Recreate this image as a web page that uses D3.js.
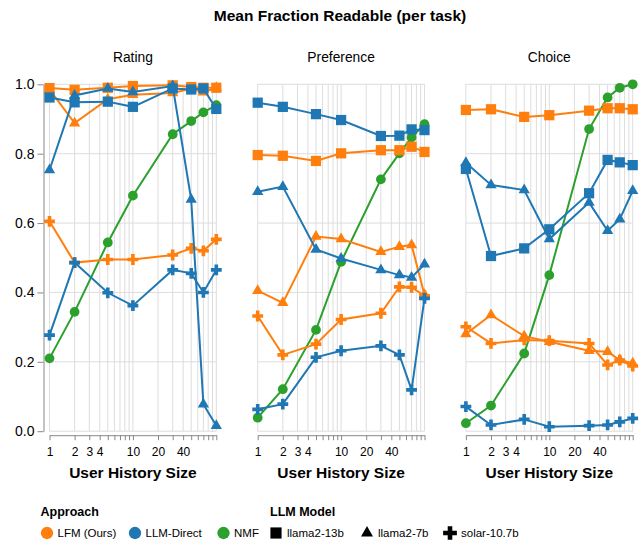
<!DOCTYPE html>
<html><head><meta charset="utf-8">
<script src="https://cdn.jsdelivr.net/npm/d3@7"></script>
<style>body{margin:0;background:#fff;} text{font-family:"Liberation Sans",Arial,sans-serif;}</style>
</head><body><svg id="c" width="640" height="546"></svg>
<script>
const tasks = ["Rating","Preference","Choice"];
const historySizes = [1,2,5,10,30,50,70,100];
const approaches = ["LFM (Ours)","LLM-Direct","NMF"];
const models = ["llama2-13b","llama2-7b","solar-10.7b"];
const yTicks = [0,0.2,0.4,0.6,0.8,1.0];
const xTickLabels = [1,2,3,4,10,20,40];
const xMinorTicks = [1,2,3,4,5,6,7,8,9,10,20,30,40,50,60,70,80,90,100];

// Rating
const ratingLFM13b   = [0.989,0.984,0.990,0.995,0.997,0.992,0.990,0.990];
const ratingLFM7b    = [0.985,0.888,0.957,0.970,0.975,0.988,0.977,0.990];
const ratingLFMsolar = [0.605,0.486,0.495,0.495,0.508,0.527,0.520,0.553];
const ratingDir13b   = [0.962,0.948,0.950,0.935,0.988,0.985,0.988,0.929];
const ratingDir7b    = [0.753,0.968,0.988,0.978,0.995,0.668,0.078,0.016];
const ratingDirSolar = [0.277,0.486,0.399,0.362,0.465,0.455,0.400,0.465];
const ratingNMF      = [0.210,0.344,0.544,0.679,0.856,0.894,0.919,0.940];
// Preference
const prefLFM13b   = [0.796,0.794,0.779,0.801,0.810,0.810,0.820,0.805];
const prefLFM7b    = [0.405,0.370,0.561,0.554,0.517,0.532,0.537,0.393];
const prefLFMsolar = [0.332,0.220,0.251,0.322,0.340,0.416,0.415,0.390];
const prefDir13b   = [0.947,0.935,0.914,0.897,0.851,0.852,0.870,0.868];
const prefDir7b    = [0.690,0.705,0.524,0.498,0.465,0.450,0.443,0.481];
const prefDirSolar = [0.063,0.078,0.213,0.232,0.246,0.220,0.119,0.383];
const prefNMF      = [0.039,0.121,0.292,0.488,0.726,0.801,0.847,0.885];
// Choice
const choiceLFM13b   = [0.926,0.928,0.906,0.911,0.924,0.931,0.931,0.928];
const choiceLFM7b    = [0.280,0.335,0.274,0.258,0.232,0.229,0.205,0.196];
const choiceLFMsolar = [0.301,0.253,0.263,0.261,0.253,0.191,0.205,0.188];
const choiceDir13b   = [0.756,0.505,0.527,0.582,0.686,0.782,0.775,0.767];
const choiceDir7b    = [0.774,0.710,0.695,0.554,0.659,0.578,0.611,0.693];
const choiceDirSolar = [0.071,0.018,0.034,0.013,0.016,0.018,0.027,0.037];
const choiceNMF      = [0.023,0.074,0.224,0.450,0.871,0.962,0.990,1.000];

const panelSeries = {
  "Rating": [
    ["NMF",null,ratingNMF],
    ["LFM (Ours)","llama2-13b",ratingLFM13b],["LFM (Ours)","llama2-7b",ratingLFM7b],["LFM (Ours)","solar-10.7b",ratingLFMsolar],
    ["LLM-Direct","llama2-13b",ratingDir13b],["LLM-Direct","llama2-7b",ratingDir7b],["LLM-Direct","solar-10.7b",ratingDirSolar]],
  "Preference": [
    ["NMF",null,prefNMF],
    ["LFM (Ours)","llama2-13b",prefLFM13b],["LFM (Ours)","llama2-7b",prefLFM7b],["LFM (Ours)","solar-10.7b",prefLFMsolar],
    ["LLM-Direct","llama2-13b",prefDir13b],["LLM-Direct","llama2-7b",prefDir7b],["LLM-Direct","solar-10.7b",prefDirSolar]],
  "Choice": [
    ["NMF",null,choiceNMF],
    ["LFM (Ours)","llama2-13b",choiceLFM13b],["LFM (Ours)","llama2-7b",choiceLFM7b],["LFM (Ours)","solar-10.7b",choiceLFMsolar],
    ["LLM-Direct","llama2-13b",choiceDir13b],["LLM-Direct","llama2-7b",choiceDir7b],["LLM-Direct","solar-10.7b",choiceDirSolar]]
};

const color = d3.scaleOrdinal().domain(approaches).range(["#ff7f0e","#1f77b4","#2ca02c"]);
const symType = m => m==="llama2-13b"?d3.symbolSquare:m==="llama2-7b"?d3.symbolTriangle:m==="solar-10.7b"?d3.symbolCross:d3.symbolCircle;
const symSize = m => m==="llama2-13b"?105:m==="llama2-7b"?55:m==="solar-10.7b"?65:75;

const svg = d3.select("#c");
const plotTop = 84.3, plotBottom = 431.2, pw = 166.8;
const lefts = [49.5, 257.7, 465.9];
const y = d3.scaleLinear().domain([0,1]).range([plotBottom, plotTop]);

svg.append("text").attr("x",340).attr("y",20.5).attr("text-anchor","middle")
  .attr("font-size",15.5).attr("font-weight","bold").attr("fill","#000").text("Mean Fraction Readable (per task)");

tasks.forEach((t,i)=>{
  const L = lefts[i];
  const x = d3.scaleLog().domain([1,100]).range([L, L+pw]);
  const g = svg.append("g");
  g.append("text").attr("x",L+pw/2).attr("y",62).attr("text-anchor","middle").attr("font-size",13.8).attr("fill","#000").text(t);
  g.append("g").selectAll("line").data(xMinorTicks).join("line")
    .attr("x1",d=>x(d)).attr("x2",d=>x(d)).attr("y1",plotTop).attr("y2",plotBottom)
    .attr("stroke","#ddd").attr("stroke-width",1);
  g.append("g").selectAll("line").data(yTicks).join("line")
    .attr("x1",L).attr("x2",L+pw).attr("y1",d=>y(d)).attr("y2",d=>y(d))
    .attr("stroke","#ddd").attr("stroke-width",1);
  const xa = g.append("g").attr("transform",`translate(0,${plotBottom+4})`)
    .call(d3.axisBottom(x).tickValues(xMinorTicks).tickSize(5).tickSizeOuter(0)
      .tickFormat(d=>xTickLabels.includes(d)?String(d):""));
  xa.select(".domain").attr("stroke","#888");
  xa.selectAll(".tick line").attr("stroke","#888");
  xa.selectAll(".tick text").attr("font-size",12).attr("fill","#000").attr("dy","1.1em")
    .attr("font-family","'Liberation Sans',Arial,sans-serif");
  g.append("text").attr("x",L+pw/2).attr("y",478.3).attr("text-anchor","middle")
    .attr("font-size",15.5).attr("font-weight","bold").attr("fill","#000").text("User History Size");
  if(i===0){
    const ya = g.append("g").attr("transform",`translate(${L-6},0)`)
      .call(d3.axisLeft(y).tickValues(yTicks).tickSize(6).tickSizeOuter(0).tickFormat(d3.format(".1f")));
    ya.select(".domain").attr("stroke","#888");
    ya.selectAll(".tick line").attr("stroke","#888");
    ya.selectAll(".tick text").attr("font-size",14).attr("fill","#000")
      .attr("font-family","'Liberation Sans',Arial,sans-serif");
  }
  const line = d3.line().x((d,k)=>x(historySizes[k])).y(d=>y(d));
  panelSeries[t].forEach(([a,m,vals])=>{
    g.append("path").datum(vals).attr("d",line).attr("fill","none")
      .attr("stroke",color(a)).attr("stroke-width",2);
    g.append("g").selectAll("path").data(vals).join("path")
      .attr("transform",(d,k)=>`translate(${x(historySizes[k])},${y(d)})`)
      .attr("d",d3.symbol().type(symType(m)).size(symSize(m)))
      .attr("fill",color(a));
  });
});

const lg = svg.append("g");
lg.append("text").attr("x",40.5).attr("y",516).attr("font-size",12.5).attr("font-weight","bold").attr("fill","#000").text("Approach");
const apX = [47,135,223.5];
approaches.forEach((a,k)=>{
  lg.append("path").attr("transform",`translate(${apX[k]},533)`).attr("d",d3.symbol().type(d3.symbolCircle).size(120)).attr("fill",color(a));
  lg.append("text").attr("x",apX[k]+10.5).attr("y",537).attr("font-size",11.5).attr("fill","#000").text(a);
});
lg.append("text").attr("x",270).attr("y",516).attr("font-size",12.5).attr("font-weight","bold").attr("fill","#000").text("LLM Model");
const mX = [276,367,450];
const legSize = {"llama2-13b":125,"llama2-7b":62,"solar-10.7b":105};
models.forEach((m,k)=>{
  lg.append("path").attr("transform",`translate(${mX[k]},533)`).attr("d",d3.symbol().type(symType(m)).size(legSize[m])).attr("fill","#000");
  lg.append("text").attr("x",mX[k]+11).attr("y",537).attr("font-size",11.5).attr("fill","#000").text(m);
});
</script></body></html>
